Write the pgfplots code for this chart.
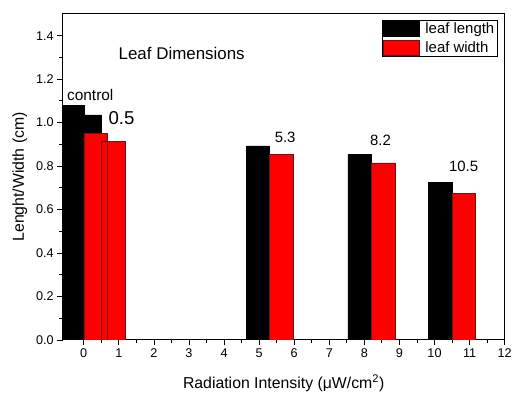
\documentclass[border=0pt]{standalone}
\usepackage{pgfplots}
\pgfplotsset{compat=1.18}
\usepackage{fontspec}
\setmainfont{Liberation Sans}
\definecolor{barred}{RGB}{255,0,0}
\definecolor{rededge}{RGB}{110,20,20}
\begin{document}
\begin{tikzpicture}
\begin{axis}[name=ax,
  scale only axis, width=444pt, height=327.5pt,
  xmin=-0.6, xmax=12, ymin=0, ymax=1.5,
  axis line style={line width=0.9pt},
  xtick={0,1,2,3,4,5,6,7,8,9,10,11,12}, minor x tick num=1,
  ytick={0,0.2,0.4,0.6,0.8,1.0,1.2,1.4}, minor y tick num=1,
  tick align=outside, tick pos=left,
  major tick length=5.5pt, minor tick length=3.3pt,
  tick style={black, line width=0.8pt},
  yticklabel style={/pgf/number format/.cd, fixed, fixed zerofill, precision=1},
  /pgf/number format/assume math mode=true,
  ticklabel style={font=\fontsize{12.7}{14}\selectfont},
  xlabel={Radiation Intensity (μW/cm\textsuperscript{2})},
  xlabel style={font=\fontsize{15.9}{18}\selectfont, at={(axis description cs:0.5,-0.133)}, anchor=center},
  ylabel={Lenght/Width (cm)},
  ylabel style={font=\fontsize{15.9}{18}\selectfont, at={(axis description cs:-0.097,0.5)}, anchor=center},
  legend style={at={(rel axis cs:0.984,0.982)}, anchor=north east, draw=black, line width=0.6pt,
    inner sep=1pt, row sep=2pt, font=\fontsize{15}{17}\selectfont,
    /tikz/every odd column/.append style={column sep=4pt}},
  legend cell align=left,
  legend image code/.code={\draw[#1, line width=0.6pt] (0pt,-7.5pt) rectangle (36pt,7.5pt);},
]
\addplot[ybar, bar width=0.67, bar shift=-0.335, fill=black, draw=black, line width=0.5pt]
  coordinates {(0,1.08) (0.5,1.035) (5.3,0.893) (8.2,0.855) (10.5,0.726)};
\addlegendentry{leaf length}
\addplot[ybar, bar width=0.67, bar shift=0.335, fill=barred, draw=rededge, line width=0.5pt]
  coordinates {(0,0.951) (0.5,0.913) (5.3,0.855) (8.2,0.815) (10.5,0.674)};
\addlegendentry{leaf width}
\node[anchor=west, font=\fontsize{17}{20}\selectfont, inner sep=0pt] at (axis cs:0.99,1.317) {Leaf Dimensions};
\node[anchor=west, font=\fontsize{15.5}{18}\selectfont, inner sep=0pt] at (axis cs:-0.48,1.128) {control};
\node[anchor=west, font=\fontsize{18.7}{21}\selectfont, inner sep=0pt] at (axis cs:0.70,1.02) {0.5};
\node[anchor=west, font=\fontsize{15}{18}\selectfont, inner sep=0pt] at (axis cs:5.44,0.93) {5.3};
\node[anchor=west, font=\fontsize{15}{18}\selectfont, inner sep=0pt] at (axis cs:8.16,0.916) {8.2};
\node[anchor=west, font=\fontsize{15}{18}\selectfont, inner sep=0pt] at (axis cs:10.41,0.80) {10.5};
\end{axis}
\path (ax.south west) ++(-63pt,-52.5pt) rectangle ++(515pt,394pt);
\end{tikzpicture}
\end{document}
